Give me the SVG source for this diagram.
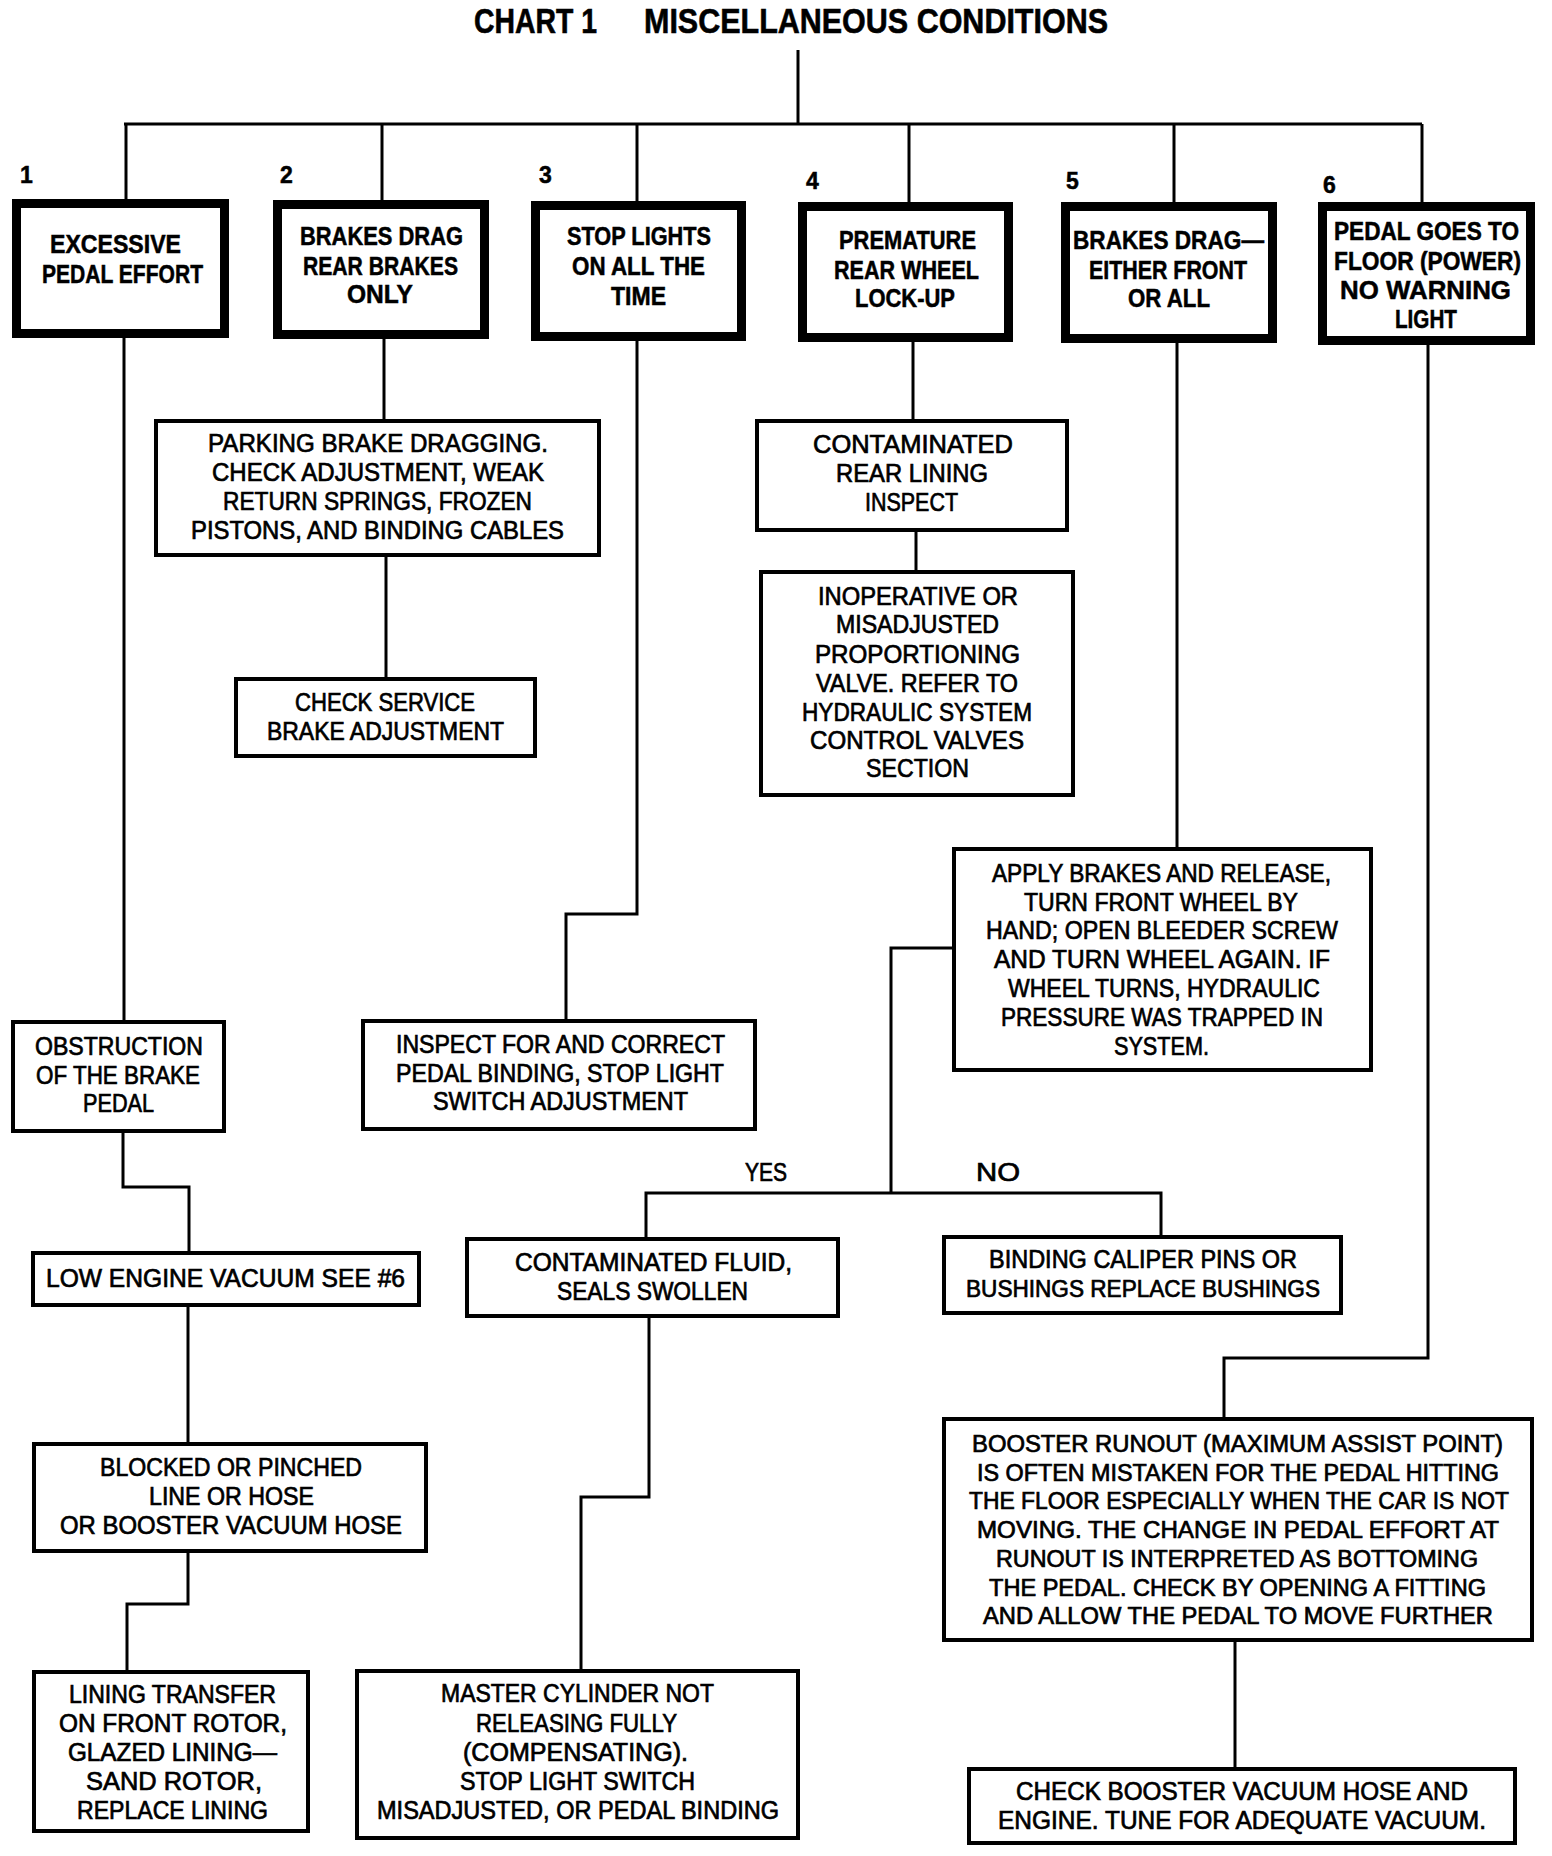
<svg xmlns="http://www.w3.org/2000/svg" width="1552" height="1856" viewBox="0 0 1552 1856">
<style>
.hb{fill:#fff;stroke:#000;stroke-width:9}
.bx{fill:#fff;stroke:#000;stroke-width:4}
.cn{fill:none;stroke:#000;stroke-width:3}
text{font-family:"Liberation Sans",Arial,sans-serif;fill:#000}
.t{font-size:25px;stroke:#000;stroke-width:0.7}
.s{font-size:23.5px}
.h{font-size:25px;font-weight:bold;stroke:#000;stroke-width:0.5}
.n{font-size:23px;font-weight:bold;stroke:#000;stroke-width:0.5}
.ti{font-size:35px;font-weight:bold;stroke:#000;stroke-width:0.6}
</style>
<rect width="1552" height="1856" fill="#fff"/>
<g id="connectors">
<polyline class="cn" points="798,50 798,124"/>
<polyline class="cn" points="124,124 1422,124"/>
<polyline class="cn" points="126,124 126,200"/>
<polyline class="cn" points="382,124 382,200"/>
<polyline class="cn" points="637,124 637,201"/>
<polyline class="cn" points="909,124 909,202"/>
<polyline class="cn" points="1174,124 1174,202"/>
<polyline class="cn" points="1422,124 1422,202"/>
<polyline class="cn" points="124,338 124,1020"/>
<polyline class="cn" points="123,1133 123,1187 189,1187 189,1251"/>
<polyline class="cn" points="188,1307 188,1442"/>
<polyline class="cn" points="188,1553 188,1604 127,1604 127,1670"/>
<polyline class="cn" points="384,339 384,419"/>
<polyline class="cn" points="386,557 386,677"/>
<polyline class="cn" points="637,341 637,914 566,914 566,1019"/>
<polyline class="cn" points="913,342 913,419"/>
<polyline class="cn" points="916,532 916,570"/>
<polyline class="cn" points="1177,343 1177,847"/>
<polyline class="cn" points="952,948 891,948 891,1193"/>
<polyline class="cn" points="646,1237 646,1193 1161,1193 1161,1235"/>
<polyline class="cn" points="649,1318 649,1497 581,1497 581,1669"/>
<polyline class="cn" points="1428,345 1428,1358 1224,1358 1224,1417"/>
<polyline class="cn" points="1235,1642 1235,1767"/>
</g>
<g id="title">
<text class="ti" x="474" y="33" textLength="123" lengthAdjust="spacingAndGlyphs">CHART 1</text>
<text class="ti" x="644" y="33" textLength="464" lengthAdjust="spacingAndGlyphs">MISCELLANEOUS CONDITIONS</text>
</g>
<g id="labels">
<text class="n" x="20" y="183">1</text>
<text class="n" x="280" y="183">2</text>
<text class="n" x="539" y="183">3</text>
<text class="n" x="806" y="189">4</text>
<text class="n" x="1066" y="189">5</text>
<text class="n" x="1323" y="193">6</text>
<text class="t" x="745" y="1181" textLength="42" lengthAdjust="spacingAndGlyphs">YES</text>
<text class="t" x="976" y="1181" textLength="44" lengthAdjust="spacingAndGlyphs">NO</text>
</g>
<g id="n1">
<rect class="hb" x="16.5" y="203.5" width="208" height="130"/>
<text class="h" x="50" y="253" textLength="131" lengthAdjust="spacingAndGlyphs">EXCESSIVE</text>
<text class="h" x="42" y="283" textLength="161" lengthAdjust="spacingAndGlyphs">PEDAL EFFORT</text>
</g>
<g id="n2">
<rect class="hb" x="277.5" y="204.5" width="207" height="130"/>
<text class="h" x="300" y="245" textLength="163" lengthAdjust="spacingAndGlyphs">BRAKES DRAG</text>
<text class="h" x="303" y="275" textLength="155" lengthAdjust="spacingAndGlyphs">REAR BRAKES</text>
<text class="h" x="347" y="303" textLength="66" lengthAdjust="spacingAndGlyphs">ONLY</text>
</g>
<g id="n3">
<rect class="hb" x="535.5" y="205.5" width="206" height="131"/>
<text class="h" x="567" y="245" textLength="144" lengthAdjust="spacingAndGlyphs">STOP LIGHTS</text>
<text class="h" x="572" y="275" textLength="133" lengthAdjust="spacingAndGlyphs">ON ALL THE</text>
<text class="h" x="611" y="305" textLength="55" lengthAdjust="spacingAndGlyphs">TIME</text>
</g>
<g id="n4">
<rect class="hb" x="802.5" y="206.5" width="206" height="131"/>
<text class="h" x="839" y="249" textLength="137" lengthAdjust="spacingAndGlyphs">PREMATURE</text>
<text class="h" x="834" y="279" textLength="145" lengthAdjust="spacingAndGlyphs">REAR WHEEL</text>
<text class="h" x="855" y="307" textLength="100" lengthAdjust="spacingAndGlyphs">LOCK-UP</text>
</g>
<g id="n5">
<rect class="hb" x="1065.5" y="206.5" width="207" height="132"/>
<text class="h" x="1073" y="249" textLength="191" lengthAdjust="spacingAndGlyphs">BRAKES DRAG—</text>
<text class="h" x="1089" y="279" textLength="158" lengthAdjust="spacingAndGlyphs">EITHER FRONT</text>
<text class="h" x="1128" y="307" textLength="82" lengthAdjust="spacingAndGlyphs">OR ALL</text>
</g>
<g id="n6">
<rect class="hb" x="1322.5" y="206.5" width="208" height="134"/>
<text class="h" x="1334" y="240" textLength="185" lengthAdjust="spacingAndGlyphs">PEDAL GOES TO</text>
<text class="h" x="1334" y="270" textLength="187" lengthAdjust="spacingAndGlyphs">FLOOR (POWER)</text>
<text class="h" x="1340" y="299" textLength="171" lengthAdjust="spacingAndGlyphs">NO WARNING</text>
<text class="h" x="1395" y="328" textLength="62" lengthAdjust="spacingAndGlyphs">LIGHT</text>
</g>
<g id="parking">
<rect class="bx" x="156" y="421" width="443" height="134"/>
<text class="t" x="208" y="452" textLength="340" lengthAdjust="spacingAndGlyphs">PARKING BRAKE DRAGGING.</text>
<text class="t" x="212" y="481" textLength="332" lengthAdjust="spacingAndGlyphs">CHECK ADJUSTMENT, WEAK</text>
<text class="t" x="223" y="510" textLength="309" lengthAdjust="spacingAndGlyphs">RETURN SPRINGS, FROZEN</text>
<text class="t" x="191" y="539" textLength="373" lengthAdjust="spacingAndGlyphs">PISTONS, AND BINDING CABLES</text>
</g>
<g id="checkservice">
<rect class="bx" x="236" y="679" width="299" height="77"/>
<text class="t" x="295" y="711" textLength="180" lengthAdjust="spacingAndGlyphs">CHECK SERVICE</text>
<text class="t" x="267" y="740" textLength="237" lengthAdjust="spacingAndGlyphs">BRAKE ADJUSTMENT</text>
</g>
<g id="contamrear">
<rect class="bx" x="757" y="421" width="310" height="109"/>
<text class="t" x="813" y="453" textLength="200" lengthAdjust="spacingAndGlyphs">CONTAMINATED</text>
<text class="t" x="836" y="482" textLength="152" lengthAdjust="spacingAndGlyphs">REAR LINING</text>
<text class="t" x="865" y="511" textLength="93" lengthAdjust="spacingAndGlyphs">INSPECT</text>
</g>
<g id="inoperative">
<rect class="bx" x="761" y="572" width="312" height="223"/>
<text class="t" x="818" y="605" textLength="200" lengthAdjust="spacingAndGlyphs">INOPERATIVE OR</text>
<text class="t" x="836" y="633" textLength="163" lengthAdjust="spacingAndGlyphs">MISADJUSTED</text>
<text class="t" x="815" y="663" textLength="205" lengthAdjust="spacingAndGlyphs">PROPORTIONING</text>
<text class="t" x="816" y="692" textLength="202" lengthAdjust="spacingAndGlyphs">VALVE. REFER TO</text>
<text class="t" x="802" y="721" textLength="230" lengthAdjust="spacingAndGlyphs">HYDRAULIC SYSTEM</text>
<text class="t" x="810" y="749" textLength="214" lengthAdjust="spacingAndGlyphs">CONTROL VALVES</text>
<text class="t" x="866" y="777" textLength="103" lengthAdjust="spacingAndGlyphs">SECTION</text>
</g>
<g id="obstruction">
<rect class="bx" x="13" y="1022" width="211" height="109"/>
<text class="t" x="35" y="1055" textLength="168" lengthAdjust="spacingAndGlyphs">OBSTRUCTION</text>
<text class="t" x="36" y="1084" textLength="164" lengthAdjust="spacingAndGlyphs">OF THE BRAKE</text>
<text class="t" x="83" y="1112" textLength="71" lengthAdjust="spacingAndGlyphs">PEDAL</text>
</g>
<g id="inspect">
<rect class="bx" x="363" y="1021" width="392" height="108"/>
<text class="t" x="396" y="1053" textLength="329" lengthAdjust="spacingAndGlyphs">INSPECT FOR AND CORRECT</text>
<text class="t" x="396" y="1082" textLength="328" lengthAdjust="spacingAndGlyphs">PEDAL BINDING, STOP LIGHT</text>
<text class="t" x="433" y="1110" textLength="255" lengthAdjust="spacingAndGlyphs">SWITCH ADJUSTMENT</text>
</g>
<g id="apply">
<rect class="bx" x="954" y="849" width="417" height="221"/>
<text class="t" x="992" y="882" textLength="339" lengthAdjust="spacingAndGlyphs">APPLY BRAKES AND RELEASE,</text>
<text class="t" x="1024" y="911" textLength="274" lengthAdjust="spacingAndGlyphs">TURN FRONT WHEEL BY</text>
<text class="t" x="986" y="939" textLength="352" lengthAdjust="spacingAndGlyphs">HAND; OPEN BLEEDER SCREW</text>
<text class="t" x="994" y="968" textLength="336" lengthAdjust="spacingAndGlyphs">AND TURN WHEEL AGAIN. IF</text>
<text class="t" x="1008" y="997" textLength="312" lengthAdjust="spacingAndGlyphs">WHEEL TURNS, HYDRAULIC</text>
<text class="t" x="1001" y="1026" textLength="322" lengthAdjust="spacingAndGlyphs">PRESSURE WAS TRAPPED IN</text>
<text class="t" x="1114" y="1055" textLength="95" lengthAdjust="spacingAndGlyphs">SYSTEM.</text>
</g>
<g id="lowengine">
<rect class="bx" x="33" y="1253" width="386" height="52"/>
<text class="t" x="46" y="1287" textLength="359" lengthAdjust="spacingAndGlyphs">LOW ENGINE VACUUM SEE #6</text>
</g>
<g id="contamfluid">
<rect class="bx" x="467" y="1239" width="371" height="77"/>
<text class="t" x="515" y="1271" textLength="277" lengthAdjust="spacingAndGlyphs">CONTAMINATED FLUID,</text>
<text class="t" x="557" y="1300" textLength="191" lengthAdjust="spacingAndGlyphs">SEALS SWOLLEN</text>
</g>
<g id="binding">
<rect class="bx" x="944" y="1237" width="397" height="76"/>
<text class="t" x="989" y="1268" textLength="308" lengthAdjust="spacingAndGlyphs">BINDING CALIPER PINS OR</text>
<text class="t s" x="966" y="1297" textLength="354" lengthAdjust="spacingAndGlyphs">BUSHINGS REPLACE BUSHINGS</text>
</g>
<g id="blocked">
<rect class="bx" x="34" y="1444" width="392" height="107"/>
<text class="t" x="100" y="1476" textLength="262" lengthAdjust="spacingAndGlyphs">BLOCKED OR PINCHED</text>
<text class="t" x="149" y="1505" textLength="165" lengthAdjust="spacingAndGlyphs">LINE OR HOSE</text>
<text class="t" x="60" y="1534" textLength="342" lengthAdjust="spacingAndGlyphs">OR BOOSTER VACUUM HOSE</text>
</g>
<g id="lining">
<rect class="bx" x="34" y="1672" width="274" height="159"/>
<text class="t" x="69" y="1703" textLength="207" lengthAdjust="spacingAndGlyphs">LINING TRANSFER</text>
<text class="t" x="59" y="1732" textLength="228" lengthAdjust="spacingAndGlyphs">ON FRONT ROTOR,</text>
<text class="t" x="68" y="1761" textLength="209" lengthAdjust="spacingAndGlyphs">GLAZED LINING—</text>
<text class="t" x="86" y="1790" textLength="176" lengthAdjust="spacingAndGlyphs">SAND ROTOR,</text>
<text class="t" x="77" y="1819" textLength="191" lengthAdjust="spacingAndGlyphs">REPLACE LINING</text>
</g>
<g id="master">
<rect class="bx" x="357" y="1671" width="441" height="167"/>
<text class="t" x="441" y="1702" textLength="273" lengthAdjust="spacingAndGlyphs">MASTER CYLINDER NOT</text>
<text class="t" x="476" y="1732" textLength="201" lengthAdjust="spacingAndGlyphs">RELEASING FULLY</text>
<text class="t" x="463" y="1761" textLength="225" lengthAdjust="spacingAndGlyphs">(COMPENSATING).</text>
<text class="t" x="460" y="1790" textLength="235" lengthAdjust="spacingAndGlyphs">STOP LIGHT SWITCH</text>
<text class="t" x="377" y="1819" textLength="402" lengthAdjust="spacingAndGlyphs">MISADJUSTED, OR PEDAL BINDING</text>
</g>
<g id="booster">
<rect class="bx" x="944" y="1419" width="588" height="221"/>
<text class="t s" x="972" y="1452" textLength="531" lengthAdjust="spacingAndGlyphs">BOOSTER RUNOUT (MAXIMUM ASSIST POINT)</text>
<text class="t s" x="977" y="1481" textLength="522" lengthAdjust="spacingAndGlyphs">IS OFTEN MISTAKEN FOR THE PEDAL HITTING</text>
<text class="t s" x="969" y="1509" textLength="540" lengthAdjust="spacingAndGlyphs">THE FLOOR ESPECIALLY WHEN THE CAR IS NOT</text>
<text class="t s" x="977" y="1538" textLength="522" lengthAdjust="spacingAndGlyphs">MOVING. THE CHANGE IN PEDAL EFFORT AT</text>
<text class="t s" x="996" y="1567" textLength="482" lengthAdjust="spacingAndGlyphs">RUNOUT IS INTERPRETED AS BOTTOMING</text>
<text class="t s" x="989" y="1596" textLength="497" lengthAdjust="spacingAndGlyphs">THE PEDAL. CHECK BY OPENING A FITTING</text>
<text class="t s" x="983" y="1624" textLength="510" lengthAdjust="spacingAndGlyphs">AND ALLOW THE PEDAL TO MOVE FURTHER</text>
</g>
<g id="checkbooster">
<rect class="bx" x="969" y="1769" width="546" height="74"/>
<text class="t" x="1016" y="1800" textLength="452" lengthAdjust="spacingAndGlyphs">CHECK BOOSTER VACUUM HOSE AND</text>
<text class="t" x="998" y="1829" textLength="488" lengthAdjust="spacingAndGlyphs">ENGINE. TUNE FOR ADEQUATE VACUUM.</text>
</g>
</svg>
